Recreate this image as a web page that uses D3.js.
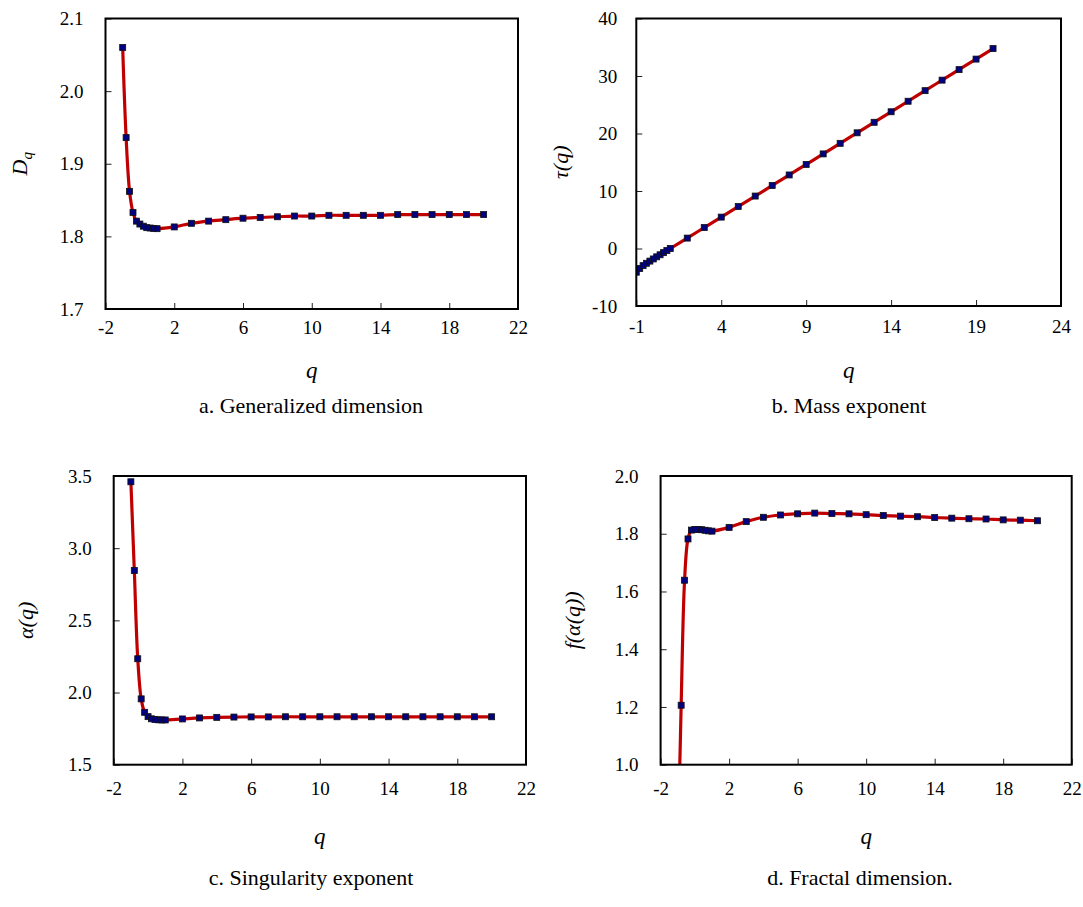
<!DOCTYPE html>
<html>
<head>
<meta charset="utf-8">
<script src="https://cdn.jsdelivr.net/npm/d3@7"></script>
<style>
  html, body { margin: 0; padding: 0; background: #fff; }
  svg { display: block; }
</style>
</head>
<body>
<svg id="chart" width="1083" height="907"></svg>
<script>
// ---------------- data ----------------
const qVals = [-1, -0.8, -0.6, -0.4, -0.2, 0, 0.2, 0.4, 0.6, 0.8, 1,
  2, 3, 4, 5, 6, 7, 8, 9, 10, 11, 12, 13, 14, 15, 16, 17, 18, 19, 20];

const dqVals = [2.060, 1.936, 1.862, 1.833, 1.821, 1.817, 1.814, 1.812, 1.8115, 1.811, 1.8106,
  1.813, 1.818, 1.821, 1.823, 1.825, 1.826, 1.827, 1.828, 1.828, 1.829, 1.829, 1.829, 1.829,
  1.830, 1.830, 1.830, 1.830, 1.830, 1.830];

const tauVals = [-4.12, -3.48, -2.98, -2.57, -2.19, -1.82, -1.45, -1.09, -0.72, -0.36, 0,
  1.81, 3.64, 5.46, 7.29, 9.12, 10.96, 12.79, 14.62, 16.45, 18.29, 20.12, 21.95, 23.78,
  25.61, 27.45, 29.28, 31.11, 32.94, 34.77];

const alphaVals = [3.460, 2.845, 2.234, 1.956, 1.863, 1.833, 1.818, 1.813, 1.811, 1.810, 1.810,
  1.817, 1.824, 1.828, 1.830, 1.831, 1.831, 1.832, 1.832, 1.832, 1.832, 1.832, 1.832, 1.832,
  1.832, 1.832, 1.832, 1.832, 1.832, 1.832];

const fVals = [0.66, 1.206, 1.639, 1.782, 1.8127, 1.815, 1.815, 1.814, 1.812, 1.810, 1.809,
  1.822, 1.842, 1.857, 1.865, 1.869, 1.8715, 1.870, 1.869, 1.866, 1.863, 1.861, 1.859, 1.856,
  1.854, 1.852, 1.851, 1.848, 1.847, 1.845];

const xTicksA = [-2, 2, 6, 10, 14, 18, 22];
const xTicksB = [-1, 4, 9, 14, 19, 24];
const yTicksA = [1.7, 1.8, 1.9, 2.0, 2.1];
const yTicksB = [-10, 0, 10, 20, 30, 40];
const yTicksC = [1.5, 2.0, 2.5, 3.0, 3.5];
const yTicksD = [1.0, 1.2, 1.4, 1.6, 1.8, 2.0];

const captions = ["a. Generalized dimension", "b. Mass exponent", "c. Singularity exponent", "d. Fractal dimension."];

// ---------------- layout ----------------
const FONT = '"Liberation Serif"';
const hy = f => (d => f(d).replace("\u2212", "-"));

const panels = [
  { id: "a", vals: dqVals, x0: 105.5, x1: 518, y0: 18.5, y1: 309,
    xDom: [-2, 22], xTicks: xTicksA, yDom: [1.7, 2.1], yTicks: yTicksA, yFmt: hy(d3.format(".1f")),
    yLab: "D", ySub: "q", yLabX: 27, lPad: 22, xPad: 12, qY: 378, capY: 413, capX: 311, cap: captions[0] },
  { id: "b", vals: tauVals, x0: 636.3, x1: 1061, y0: 18.5, y1: 306,
    xDom: [-1, 24], xTicks: xTicksB, yDom: [-10, 40], yTicks: yTicksB, yFmt: hy(d3.format("d")),
    yLab: "τ(q)", yLabX: 568, lPad: 19, xPad: 14, qY: 378, capY: 413, capX: 849, cap: captions[1] },
  { id: "c", vals: alphaVals, x0: 113.7, x1: 526, y0: 476, y1: 764.7,
    xDom: [-2, 22], xTicks: xTicksA, yDom: [1.5, 3.5], yTicks: yTicksC, yFmt: hy(d3.format(".1f")),
    yLab: "α(q)", yLabX: 33, lPad: 22, xPad: 17, qY: 844, capY: 885, capX: 311, cap: captions[2] },
  { id: "d", vals: fVals, x0: 660.6, x1: 1071.7, y0: 476, y1: 764.7,
    xDom: [-2, 22], xTicks: xTicksA, yDom: [1.0, 2.0], yTicks: yTicksD, yFmt: hy(d3.format(".1f")),
    yLab: "f(α(q))", yLabX: 580, lPad: 22, xPad: 17, qY: 844, capY: 885, capX: 860, cap: captions[3] }
];

const svg = d3.select("#chart");
const lineColor = "#c00000";
const markerFill = "#000080";

panels.forEach(p => {
  const x = d3.scaleLinear().domain(p.xDom).range([p.x0, p.x1]);
  const y = d3.scaleLinear().domain(p.yDom).range([p.y1, p.y0]);
  const g = svg.append("g");

  svg.append("clipPath").attr("id", "clip-" + p.id)
    .append("rect").attr("x", p.x0).attr("y", p.y0)
    .attr("width", p.x1 - p.x0).attr("height", p.y1 - p.y0);

  const xAxis = d3.axisBottom(x).tickValues(p.xTicks).tickSizeInner(-6).tickSizeOuter(0)
    .tickPadding(p.xPad).tickFormat(hy(d3.format("d")));
  const yAxis = d3.axisLeft(y).tickValues(p.yTicks).tickSizeInner(-6).tickSizeOuter(0)
    .tickPadding(p.lPad).tickFormat(p.yFmt);

  const gx = g.append("g").attr("transform", `translate(0,${p.y1})`).call(xAxis);
  const gy = g.append("g").attr("transform", `translate(${p.x0},0)`).call(yAxis);
  [gx, gy].forEach(a => {
    a.attr("font-family", null).attr("font-size", null);
    a.select(".domain").remove();
    a.selectAll(".tick line").attr("stroke", "#222").attr("stroke-width", 1);
    a.selectAll(".tick text").style("font-family", FONT)
      .style("font-size", "19px").attr("fill", "#000");
  });

  const pts = qVals.map((q, i) => [q, p.vals[i]]);
  const plot = g.append("g").attr("clip-path", `url(#clip-${p.id})`);
  const line = d3.line().x(d => x(d[0])).y(d => y(d[1])).curve(d3.curveCatmullRom.alpha(0.5));
  plot.append("path").datum(pts).attr("d", line)
    .attr("fill", "none").attr("stroke", lineColor).attr("stroke-width", 3.2);
  const ms = 6;
  plot.selectAll("rect.m").data(pts).enter().append("rect").attr("class", "m")
    .attr("x", d => x(d[0]) - ms / 2).attr("y", d => y(d[1]) - ms / 2)
    .attr("width", ms).attr("height", ms)
    .attr("fill", markerFill).attr("stroke", "#111").attr("stroke-width", 0.8);

  g.append("rect").attr("x", p.x0).attr("y", p.y0)
    .attr("width", p.x1 - p.x0).attr("height", p.y1 - p.y0)
    .attr("fill", "none").attr("stroke", "#000").attr("stroke-width", 2);

  g.append("text").attr("x", (p.x0 + p.x1) / 2).attr("y", p.qY)
    .attr("text-anchor", "middle").style("font-family", FONT)
    .style("font-size", "23px").style("font-style", "italic").text("q");

  const cy = (p.y0 + p.y1) / 2;
  const yt = g.append("text").attr("transform", `translate(${p.yLabX},${cy}) rotate(-90)`)
    .attr("text-anchor", "middle").style("font-family", FONT)
    .style("font-size", "22px").style("font-style", "italic");
  if (p.ySub) {
    yt.append("tspan").text(p.yLab);
    yt.append("tspan").attr("dy", 5).style("font-size", "15px").text(p.ySub);
  } else {
    yt.text(p.yLab);
  }

  g.append("text").attr("x", p.capX).attr("y", p.capY).attr("text-anchor", "middle")
    .style("font-family", FONT).style("font-size", "22px").text(p.cap);
});
</script>
</body>
</html>
